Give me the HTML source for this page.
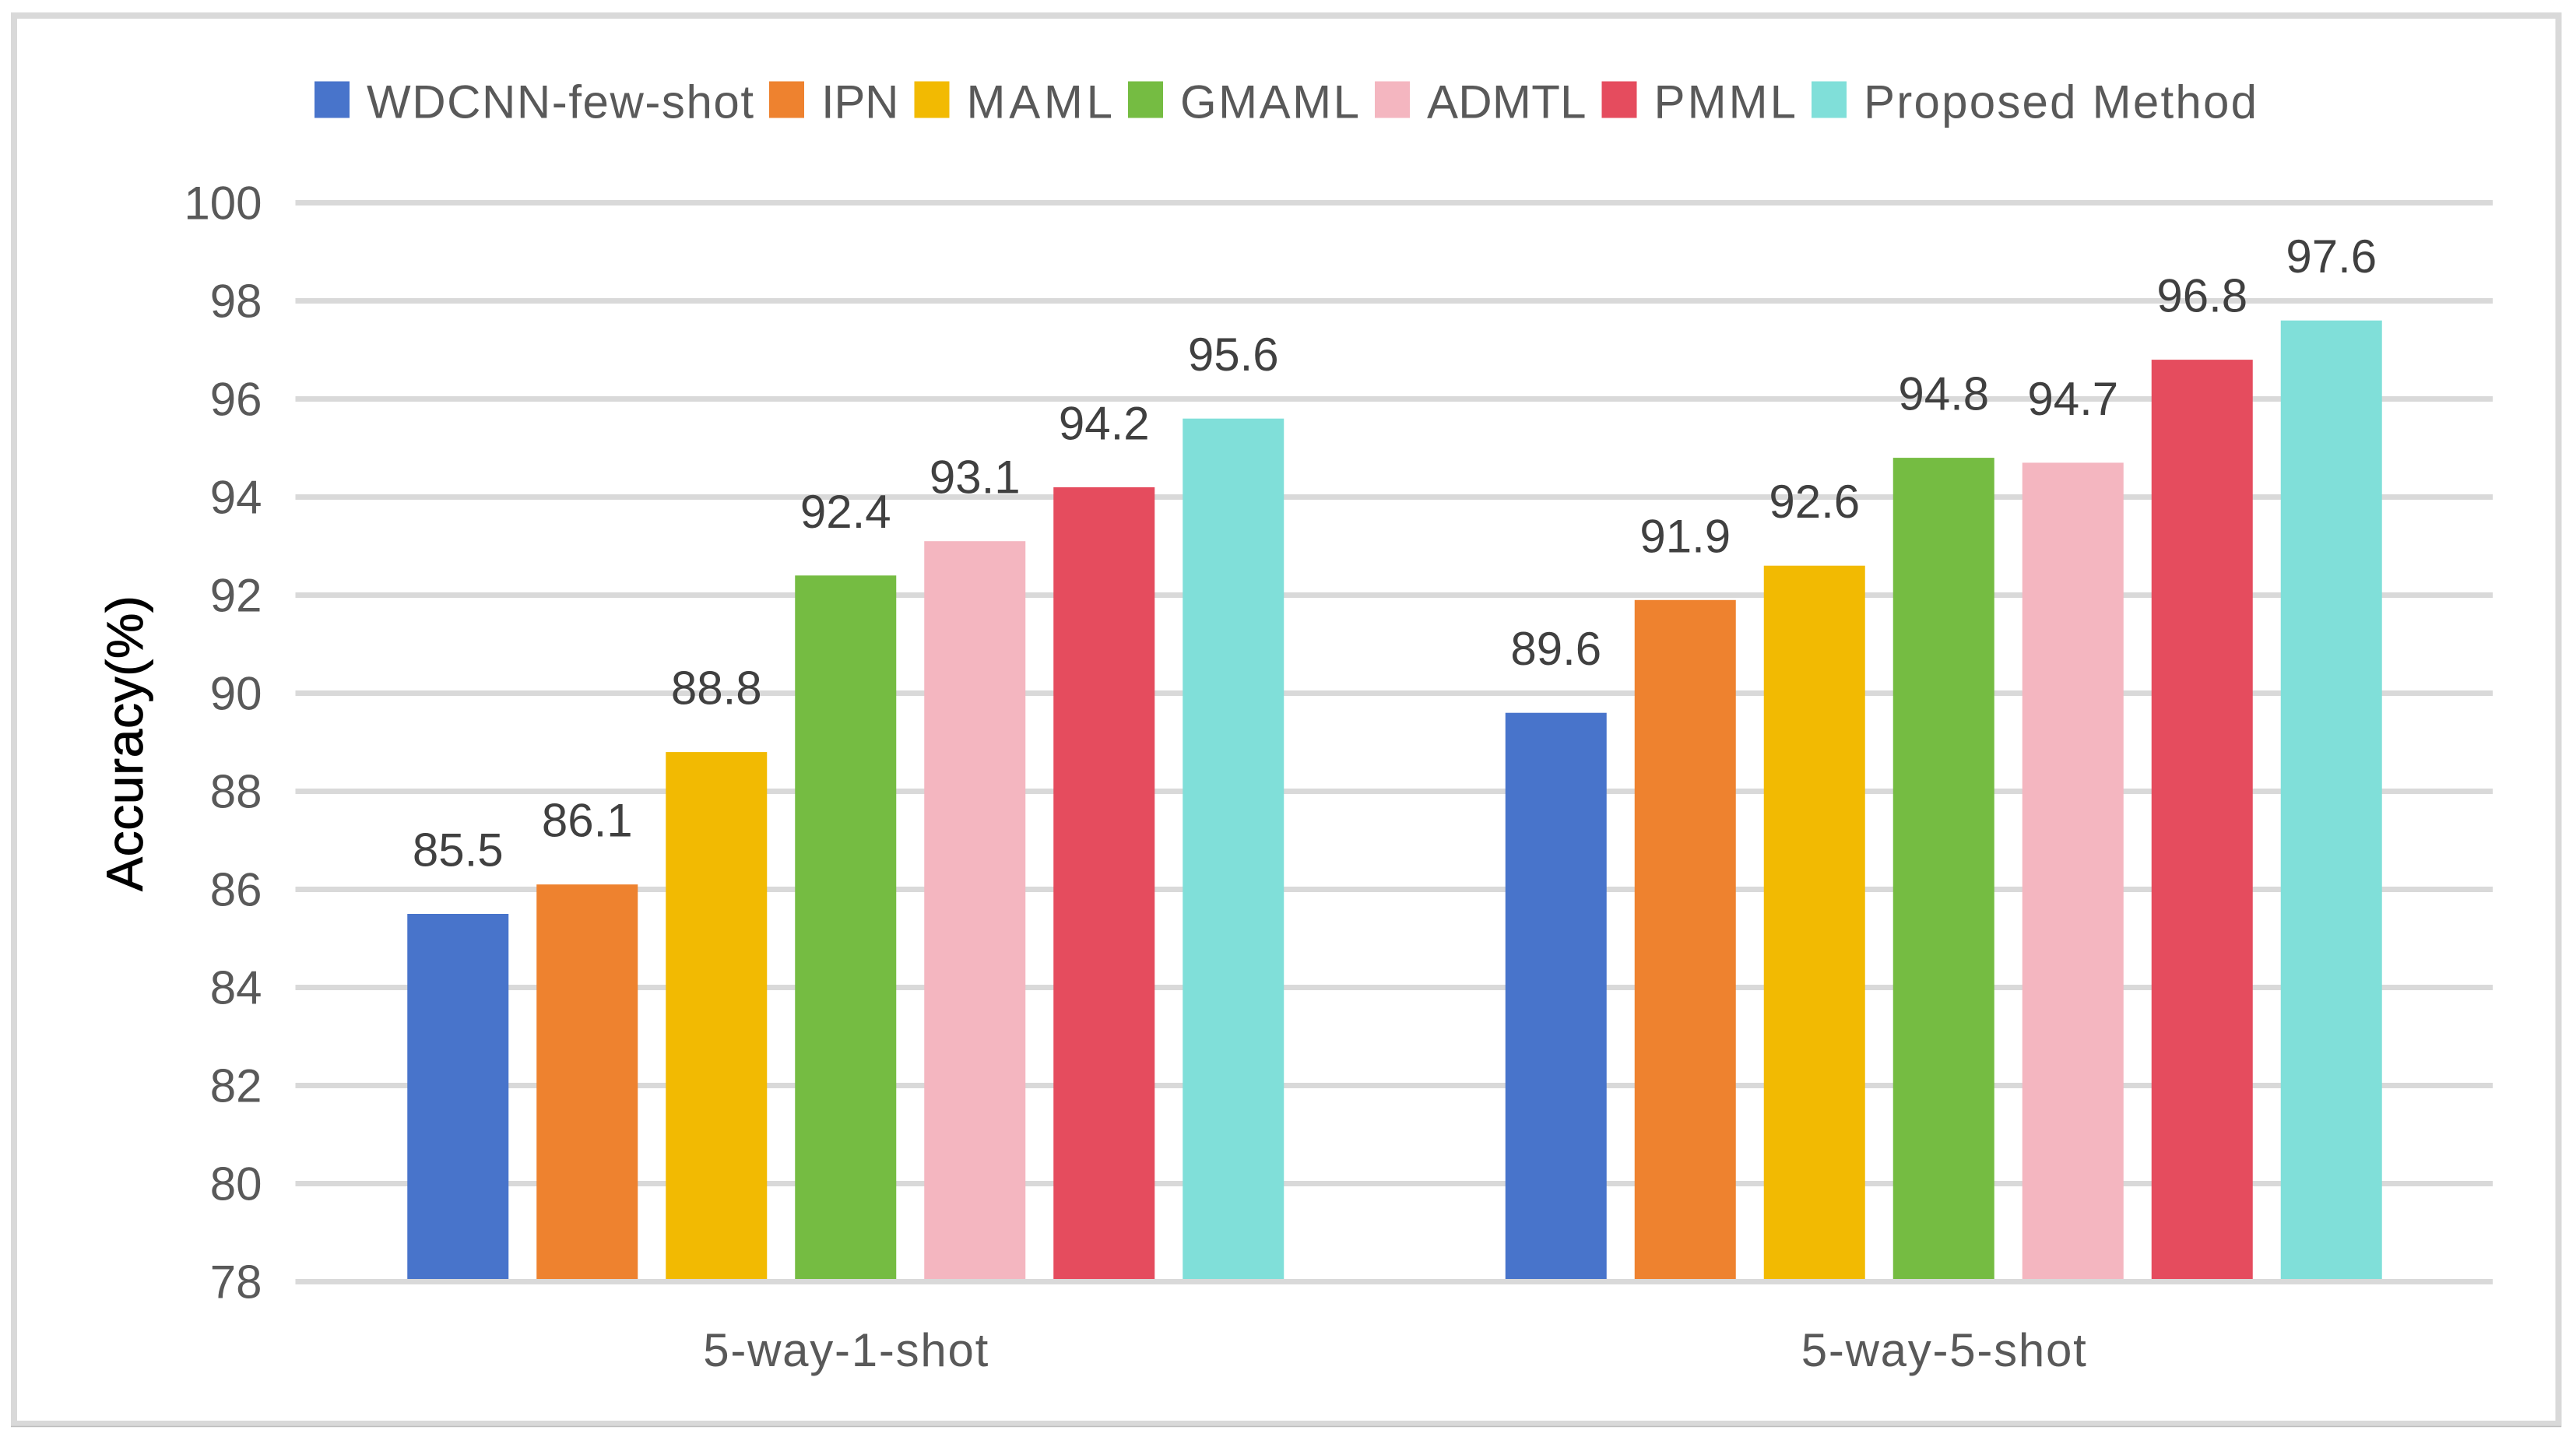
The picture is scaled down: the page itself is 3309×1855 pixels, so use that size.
<!DOCTYPE html>
<html lang="en">
<head>
<meta charset="utf-8">
<title>Accuracy comparison chart</title>
<style>
  html, body { margin: 0; padding: 0; background: #ffffff; }
  body { width: 3309px; height: 1855px; overflow: hidden; }
  svg { display: block; font-family: "Liberation Sans", sans-serif; }
</style>
</head>
<body>
<svg id="chart" xmlns="http://www.w3.org/2000/svg" width="3309" height="1855" viewBox="0 0 3309 1855">
  <rect x="0" y="0" width="3309" height="1855" fill="#ffffff"></rect>
  <rect x="18" y="20" width="3268.5" height="1809" fill="#ffffff" stroke="#d9d9d9" stroke-width="8"></rect>
  <line x1="14" y1="1832.5" x2="3290" y2="1832.5" stroke="#bdbdbd" stroke-width="1.5"></line>
  <text transform="translate(183 955) rotate(-90)" text-anchor="middle" font-size="66" fill="#000000" stroke="#000000" stroke-width="0.8" textLength="380" lengthAdjust="spacing">Accuracy(%)</text>
  <g id="grid"></g>
  <g id="y-ticks"></g>
  <g id="bars"></g>
  <g id="axis-line"></g>
  <g id="value-labels"></g>
  <g id="x-labels"></g>
  <g id="legend"></g>
</svg>
<script>
const categories = ["5-way-1-shot", "5-way-5-shot"];
const seriesNames = ["WDCNN-few-shot", "IPN", "MAML", "GMAML", "ADMTL", "PMML", "Proposed Method"];
const wdcnnValues = [85.5, 89.6];
const ipnValues = [86.1, 91.9];
const mamlValues = [88.8, 92.6];
const gmamlValues = [92.4, 94.8];
const admtlValues = [93.1, 94.7];
const pmmlValues = [94.2, 96.8];
const proposedValues = [95.6, 97.6];
const yTicks = [78, 80, 82, 84, 86, 88, 90, 92, 94, 96, 98, 100];
const seriesColors = ["#4874CB", "#EE822F", "#F2BA02", "#75BC42", "#F4B6C0", "#E54C5E", "#80DFD9"];

const allSeries = [wdcnnValues, ipnValues, mamlValues, gmamlValues, admtlValues, pmmlValues, proposedValues];
const NS = "http://www.w3.org/2000/svg";

const plot = { left: 381, right: 3202, y78: 1646.5, pxPerUnit: 63, barWidth: 130, barStep: 166 };
const legendLayout = { startX: 404, y: 104.5, swatchW: 45, swatchH: 47, labelOffset: 67, gap: 20, baseline: 151.5, labelWidths: [497, 99.5, 187.5, 230, 204.5, 182.5, 505] };

function yScale(v) {
  return plot.y78 - (v - yTicks[0]) * plot.pxPerUnit;
}
function bandCenter(i) {
  const band = (plot.right - plot.left) / categories.length;
  return plot.left + band * (i + 0.5);
}
function barX(catIndex, seriesIndex) {
  const span = plot.barStep * (allSeries.length - 1) + plot.barWidth;
  return bandCenter(catIndex) - span / 2 + seriesIndex * plot.barStep;
}
function make(tag, parent, attrs, text) {
  const el = document.createElementNS(NS, tag);
  for (const k in attrs) el.setAttribute(k, attrs[k]);
  if (text !== undefined) el.textContent = text;
  parent.appendChild(el);
  return el;
}

const gridG = document.getElementById("grid");
const tickG = document.getElementById("y-ticks");
yTicks.forEach(function (t) {
  if (t !== yTicks[0]) {
    const gl = make("rect", gridG, { x: 379.5, y: yScale(t) - 3.5, width: 3202 - 379.5, height: 7, fill: "#d9d9d9" });
    
    
  }
  const lab = make("text", tickG, { x: 336.5, y: yScale(t) + 21, "text-anchor": "end", "font-size": 60, fill: "#595959" }, String(t));
  
  
});

const barG = document.getElementById("bars");
const valG = document.getElementById("value-labels");
allSeries.forEach(function (vals, s) {
  vals.forEach(function (v, c) {
    const x = barX(c, s);
    const top = yScale(v);
    const bar = make("rect", barG, { x: x, y: top, width: plot.barWidth, height: yScale(yTicks[0]) - top, fill: seriesColors[s] });
    
    
    const label = make("text", valG, { x: x + plot.barWidth / 2, y: top - 61.5, "text-anchor": "middle", "font-size": 60, fill: "#404040" }, v.toFixed(1));
    
    
  });
});

const axisG = document.getElementById("axis-line");
const axisLine = make("rect", axisG, { x: 379.5, y: yScale(yTicks[0]) - 3.5, width: 3202 - 379.5, height: 7, fill: "#d9d9d9" });



const xG = document.getElementById("x-labels");
categories.forEach(function (cat, c) {
  const xl = make("text", xG, { x: bandCenter(c), y: 1755, "text-anchor": "middle", "font-size": 60, fill: "#595959", textLength: 366, lengthAdjust: "spacing" }, cat);
  
  
});

const legendG = document.getElementById("legend");
let legendX = legendLayout.startX;
seriesNames.forEach(function (name, s) {
  const entry = make("g", legendG, {});
  
  
  const sw = make("rect", entry, { x: legendX, y: legendLayout.y, width: legendLayout.swatchW, height: legendLayout.swatchH, fill: seriesColors[s] });
  
  
  const txt = make("text", entry, { x: legendX + legendLayout.labelOffset, y: legendLayout.baseline, "font-size": 60, fill: "#595959", textLength: legendLayout.labelWidths[s], lengthAdjust: "spacing" }, name);
  
  
  legendX += legendLayout.labelOffset + legendLayout.labelWidths[s] + legendLayout.gap;
});
</script>
</body>
</html>
